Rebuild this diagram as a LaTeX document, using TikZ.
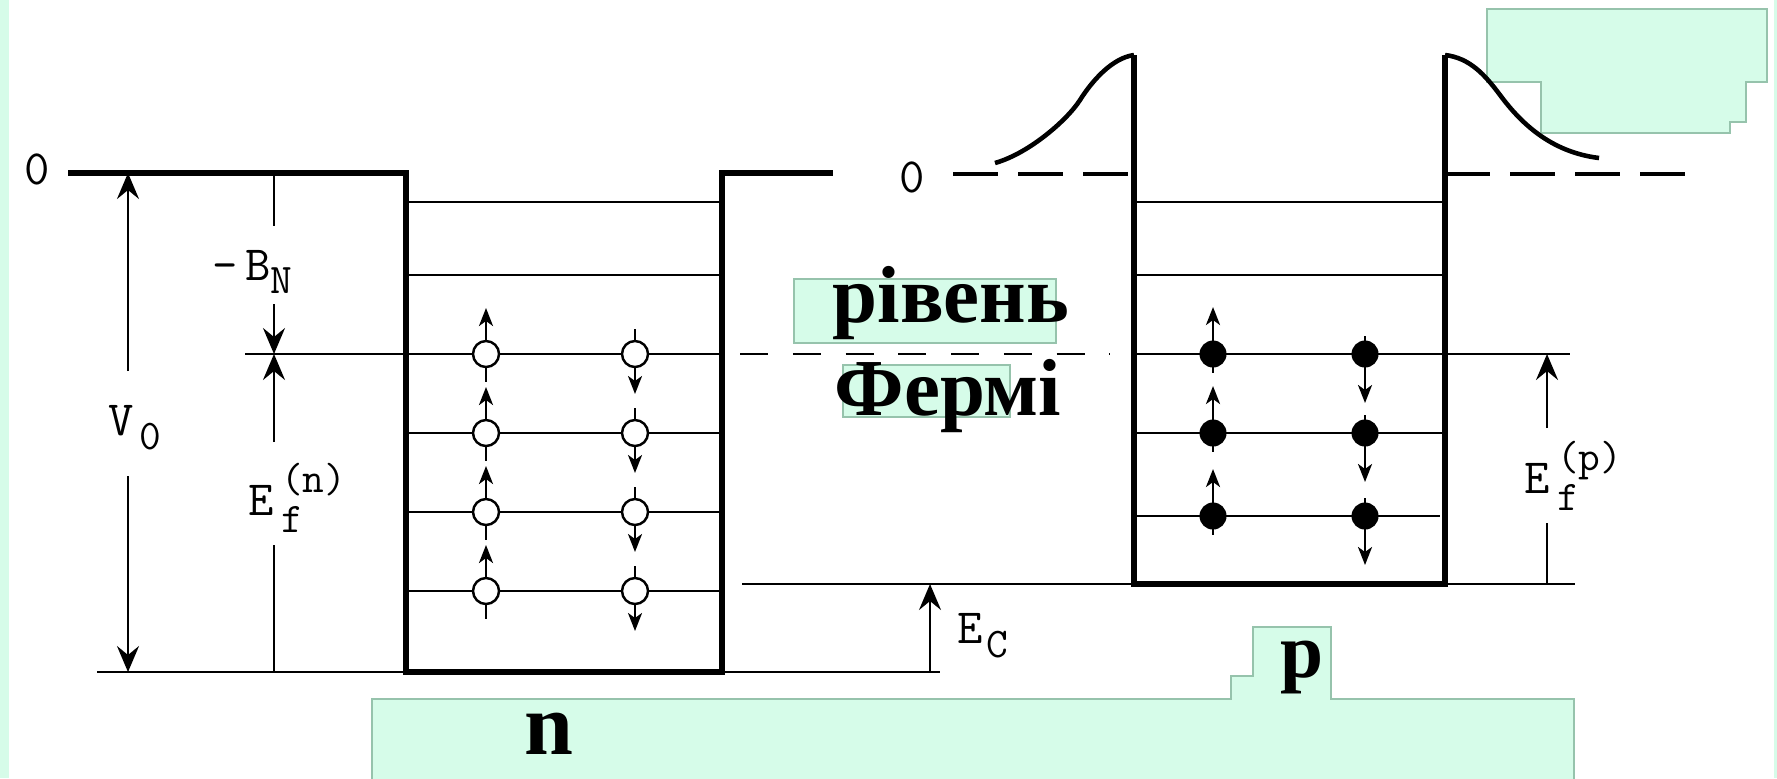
\documentclass[tikz,border=0pt]{standalone}
\usepackage{fontspec}
\newfontfamily\bigserif{Liberation Serif}
\usetikzlibrary{arrows.meta}

\definecolor{mint}{RGB}{214,252,233}
\definecolor{mintedge}{RGB}{150,195,172}

% lowered / raised scripts for the level labels
\newcommand\lsub[2][3.8pt]{\raisebox{-#1}{\fontsize{12}{12}\selectfont #2}}
\newcommand\lsubsup[2]{\kern2pt\rlap{\raisebox{-5pt}{\fontsize{12}{12}\selectfont #1}}\raisebox{6.5pt}{\fontsize{12}{12}\selectfont #2}}

\tikzset{
  wall/.style={line width=1.6pt},
  level/.style={line width=0.7pt},
  zero/.style={line width=1pt, dash pattern=on 12.8pt off 5.7pt},
  fermi/.style={line width=0.8pt, dash pattern=on 8pt off 7pt},
  dim/.style={line width=0.7pt},
  dimarrow/.style={dim, -{Stealth[length=2.6mm,width=2.2mm,inset=0.9mm]}},
  spin/.style={line width=0.7pt, -{Stealth[length=1.8mm,width=1.4mm,inset=0.5mm]}},
  hole/.style={circle, draw, fill=white, line width=0.7pt, minimum size=2.6mm, inner sep=0pt},
  electron/.style={circle, fill=black, minimum size=2.7mm, inner sep=0pt},
  lbl/.style={font=\fontsize{14}{14}\selectfont\ttfamily, inner sep=0pt},
  word/.style={font=\bigserif\bfseries\fontsize{23}{23}\selectfont, inner sep=0pt},
  patch/.style={fill=mint, draw=mintedge, line width=0.4pt}
}

\begin{document}
\begin{tikzpicture}[x=0.01cm, y=-0.01cm]
  \fill[white] (0,0) rectangle (1777,778);
  \useasboundingbox (0,0) rectangle (1777,778);

  % green patches
  \fill[mint] (0,0) rectangle (9,778);
  \fill[mint] (1774,0) rectangle (1777,778);
  \draw[patch] (1487,9) -- (1767,9) -- (1767,82) -- (1746,82) -- (1746,122) -- (1730,122)
    -- (1730,133) -- (1541,133) -- (1541,82) -- (1487,82) -- cycle;
  \draw[patch] (372,800) -- (372,699) -- (1231,699) -- (1231,676) -- (1253,676) -- (1253,627)
    -- (1331,627) -- (1331,699) -- (1574,699) -- (1574,800) -- cycle;
  \draw[patch] (794,279) rectangle (1056,343);
  \draw[patch] (843,365) rectangle (1010,417);

  % n well
  \draw[wall] (68,173) -- (406,173) -- (406,672) -- (722,672) -- (722,173) -- (833,173);
  \draw[level] (97,672) -- (406,672);
  \draw[level] (722,672) -- (940,672);
  \foreach \y in {202,275,433,512,591}
    \draw[level] (406,\y) -- (722,\y);
  \draw[level] (245,354) -- (722,354);

  \foreach \y in {354,433,512,591} {
    \draw[level] (486,\y) -- (486,\y+28);
    \draw[spin] (486,\y) -- (486,\y-46);
    \node[hole] (hl\y) at (486,\y) {};
    \draw[level] (635,\y-25) -- (635,\y);
    \draw[spin] (635,\y) -- (635,\y+40);
    \node[hole] (hr\y) at (635,\y) {};
  }

  % p well
  \draw[wall] (1134,55) -- (1134,584) -- (1445,584) -- (1445,55);
  \draw[line width=1.3pt] (995,163) .. controls (1030,153) and (1068,119) .. (1080,100)
    .. controls (1092,81) and (1112,58) .. (1134,55);
  \draw[line width=1.3pt] (1445,55) .. controls (1470,58) and (1485,75) .. (1500,95)
    .. controls (1520,122) and (1550,152) .. (1599,158);
  \draw[level] (742,584) -- (1134,584);
  \draw[level] (1445,584) -- (1575,584);
  \foreach \y in {202,275,433}
    \draw[level] (1134,\y) -- (1445,\y);
  \draw[level] (1134,516) -- (1440,516);
  \draw[level] (1134,354) -- (1570,354);
  \draw[zero] (953,174) -- (1134,174);
  \draw[zero] (1445,174) -- (1702,174);
  \draw[fermi] (740,354) -- (1110,354);

  \foreach \y in {354,433,516} {
    \draw[level] (1213,\y) -- (1213,\y+19);
    \draw[spin] (1213,\y) -- (1213,\y-47);
    \node[electron] (el\y) at (1213,\y) {};
    \draw[level] (1365,\y-18) -- (1365,\y);
    \draw[spin] (1365,\y) -- (1365,\y+49);
    \node[electron] (er\y) at (1365,\y) {};
  }

  % dimension arrows
  \coordinate (zeroL) at (128,173);
  \coordinate (baseL) at (128,672);
  \coordinate (v0up) at (128,371);
  \coordinate (v0dn) at (128,476);
  \draw[dimarrow] (v0up) -- (zeroL);
  \draw[dimarrow] (v0dn) -- (baseL);

  \coordinate (bnTop) at (274,173);
  \coordinate (bnA) at (274,226);
  \coordinate (bnB) at (274,304);
  \coordinate (fermiN) at (274,354);
  \coordinate (efnA) at (274,442);
  \coordinate (efnB) at (274,545);
  \coordinate (baseN) at (274,672);
  \draw[dim] (bnTop) -- (bnA);
  \draw[dimarrow] (bnB) -- (fermiN);
  \draw[dimarrow] (efnA) -- (fermiN);
  \draw[dim] (efnB) -- (baseN);

  \coordinate (ecBot) at (930,672);
  \coordinate (ecTop) at (930,584);
  \draw[dimarrow] (ecBot) -- (ecTop);

  \coordinate (fermiP) at (1547,354);
  \coordinate (efpA) at (1547,428);
  \coordinate (efpB) at (1547,523);
  \coordinate (baseP) at (1547,584);
  \draw[dimarrow] (efpA) -- (fermiP);
  \draw[dim] (efpB) -- (baseP);

  % labels
  \node[lbl] (zeroN) at (37,169) {0};
  \node[lbl] (zeroP) at (912,177) {0};
  \node[lbl, anchor=base west] (V0) at (108,435) {V\kern1.5pt\lsub[4pt]{0}};
  \node[lbl, anchor=base west] (BN) at (212,280) {-\kern2pt B\lsub[3.7pt]{N}};
  \node[lbl, anchor=base west] (Efn) at (248,515) {E\lsubsup{f}{(n)}};
  \node[lbl, anchor=base west] (Efp) at (1524,493) {E\lsubsup{f}{(p)}};
  \node[lbl, anchor=base west] (EC) at (957,643) {E\kern1pt\lsub[4pt]{C}};

  \node[word, anchor=base] (riven) at (951,322) {рівень};
  \node[word, anchor=base] (fermi) at (948,415) {Фермі};
  \node[word, anchor=base, font=\bigserif\bfseries\fontsize{25}{25}\selectfont] (nlab) at (549,754) {n};
  \node[word, anchor=base, font=\bigserif\bfseries\fontsize{22}{22}\selectfont] (plab) at (1302,677) {p};
\end{tikzpicture}
\end{document}
